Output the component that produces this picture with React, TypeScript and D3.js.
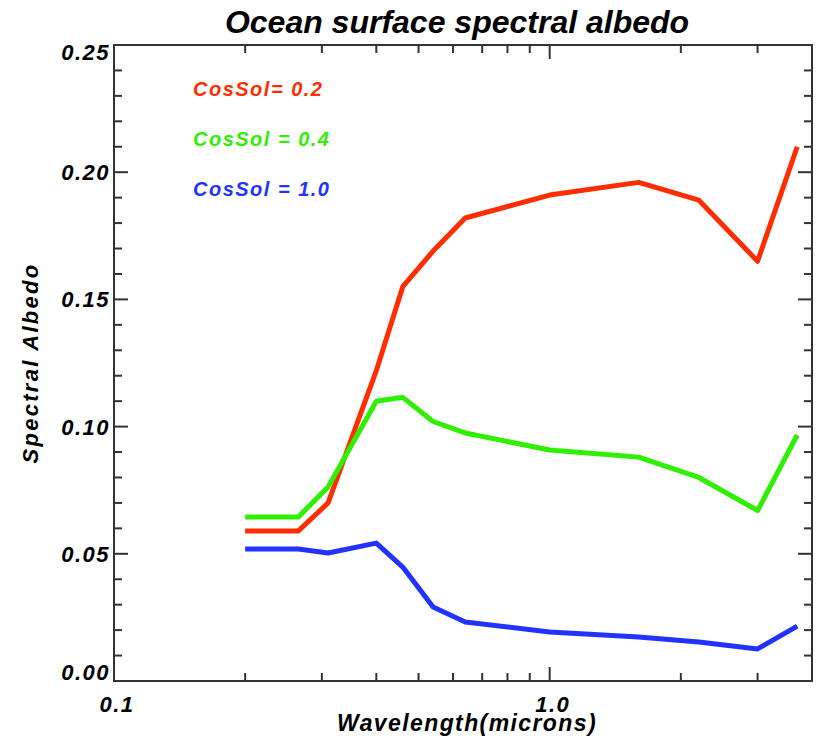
import React, { useEffect, useRef } from "react";
import * as d3 from "d3";

// wavelengths in microns
const wavelengths = [0.2, 0.265, 0.31, 0.4, 0.46, 0.54, 0.64, 1.0, 1.6, 2.2, 3.0, 3.7];
const albedoCos02 = [0.059, 0.059, 0.07, 0.122, 0.155, 0.169, 0.182, 0.191, 0.196, 0.189, 0.165, 0.21];
const albedoCos04 = [0.0645, 0.0645, 0.0763, 0.11, 0.1115, 0.102, 0.0975, 0.0908, 0.088, 0.08, 0.067, 0.0967];
const albedoCos10 = [0.0519, 0.0519, 0.0503, 0.0542, 0.0448, 0.0291, 0.0232, 0.0193, 0.0173, 0.0153, 0.0126, 0.0216];
const seriesNames = ["CosSol= 0.2", "CosSol = 0.4", "CosSol = 1.0"];
const seriesColors = ["#ff2d00", "#2ef000", "#2233ff"];
const yTickLabels = ["0.00", "0.05", "0.10", "0.15", "0.20", "0.25"];
const xTickLabels = ["0.1", "1.0"];

const FONT = "'Liberation Sans', Arial, sans-serif";

const App = () => {
  const ref = useRef<SVGSVGElement>(null);

  useEffect(() => {
    const svg = d3.select(ref.current);
    svg.selectAll("*").remove();
    const left = 114, right = 812, top = 45, bottom = 681;
    const x = d3.scaleLog().domain([0.1, 4.0]).range([left, right]);
    const y = d3.scaleLinear().domain([0, 0.25]).range([bottom, top]);
    const axisColor = "#333";

    // frame
    svg.append("rect")
      .attr("x", left).attr("y", top)
      .attr("width", right - left).attr("height", bottom - top)
      .attr("fill", "none").attr("stroke", axisColor).attr("stroke-width", 2);

    // y ticks (left & right), minor every 0.01
    const yMinor = d3.range(1, 25).map(i => i / 100);
    yMinor.forEach((v, j) => {
      const len = (j + 1) % 5 === 0 ? 14 : 8;
      svg.append("line").attr("x1", left).attr("x2", left + len)
        .attr("y1", y(v)).attr("y2", y(v)).attr("stroke", axisColor).attr("stroke-width", 2);
      svg.append("line").attr("x1", right).attr("x2", right - len)
        .attr("y1", y(v)).attr("y2", y(v)).attr("stroke", axisColor).attr("stroke-width", 2);
    });

    // x ticks (bottom & top)
    const xTicks = [0.2, 0.3, 0.4, 0.5, 0.6, 0.7, 0.8, 0.9, 1, 2, 3];
    xTicks.forEach(v => {
      const len = v === 1 ? 14 : 8;
      svg.append("line").attr("x1", x(v)).attr("x2", x(v))
        .attr("y1", bottom).attr("y2", bottom - len).attr("stroke", axisColor).attr("stroke-width", 2);
      svg.append("line").attr("x1", x(v)).attr("x2", x(v))
        .attr("y1", top).attr("y2", top + len).attr("stroke", axisColor).attr("stroke-width", 2);
    });

    const txt = (s: string, px: number, py: number, size: number, anchor = "start", fill = "#000", ls = 0) =>
      svg.append("text").text(s)
        .attr("x", px).attr("y", py)
        .attr("font-family", FONT).attr("font-weight", "bold").attr("font-style", "italic")
        .attr("font-size", size).attr("text-anchor", anchor).attr("fill", fill)
        .attr("letter-spacing", ls);

    // y tick labels
    yTickLabels.forEach(l => {
      const v = +l;
      let base = y(v) + 8;
      if (v === 0.25) base = top + 15;
      if (v === 0) base = bottom - 1;
      txt(l, 110, base, 22, "end", "#000", 1.5);
    });

    // x tick labels
    xTickLabels.forEach(l => {
      txt(l, x(+l) + 3, 712, 22, "middle", "#000", 1.5);
    });

    // titles
    txt("Ocean surface spectral albedo", 457, 33, 32, "middle");
    txt("Wavelength(microns)", 467, 731, 23, "middle", "#000", 1.4);
    txt("Spectral Albedo", 0, 0, 22, "middle", "#000", 2.3)
      .attr("transform", `translate(38,${(top + bottom) / 2}) rotate(-90)`);

    // lines
    const series = [albedoCos02, albedoCos04, albedoCos10];
    const line = d3.line<number>()
      .x((_, i) => x(wavelengths[i]))
      .y(d => y(d));
    series.forEach((s, i) => {
      svg.append("path").attr("d", line(s))
        .attr("fill", "none").attr("stroke", seriesColors[i])
        .attr("stroke-width", 5).attr("stroke-linejoin", "round");
    });

    // legend
    seriesNames.forEach((n, i) => {
      txt(n, 193, 96 + i * 50, 20, "start", seriesColors[i], 1.5);
    });
  }, []);

  return (
    <svg ref={ref} width={816} height={747}
      style={{ position: "absolute", left: 0, top: 0, background: "#fff" }} />
  );
};

export default App;
